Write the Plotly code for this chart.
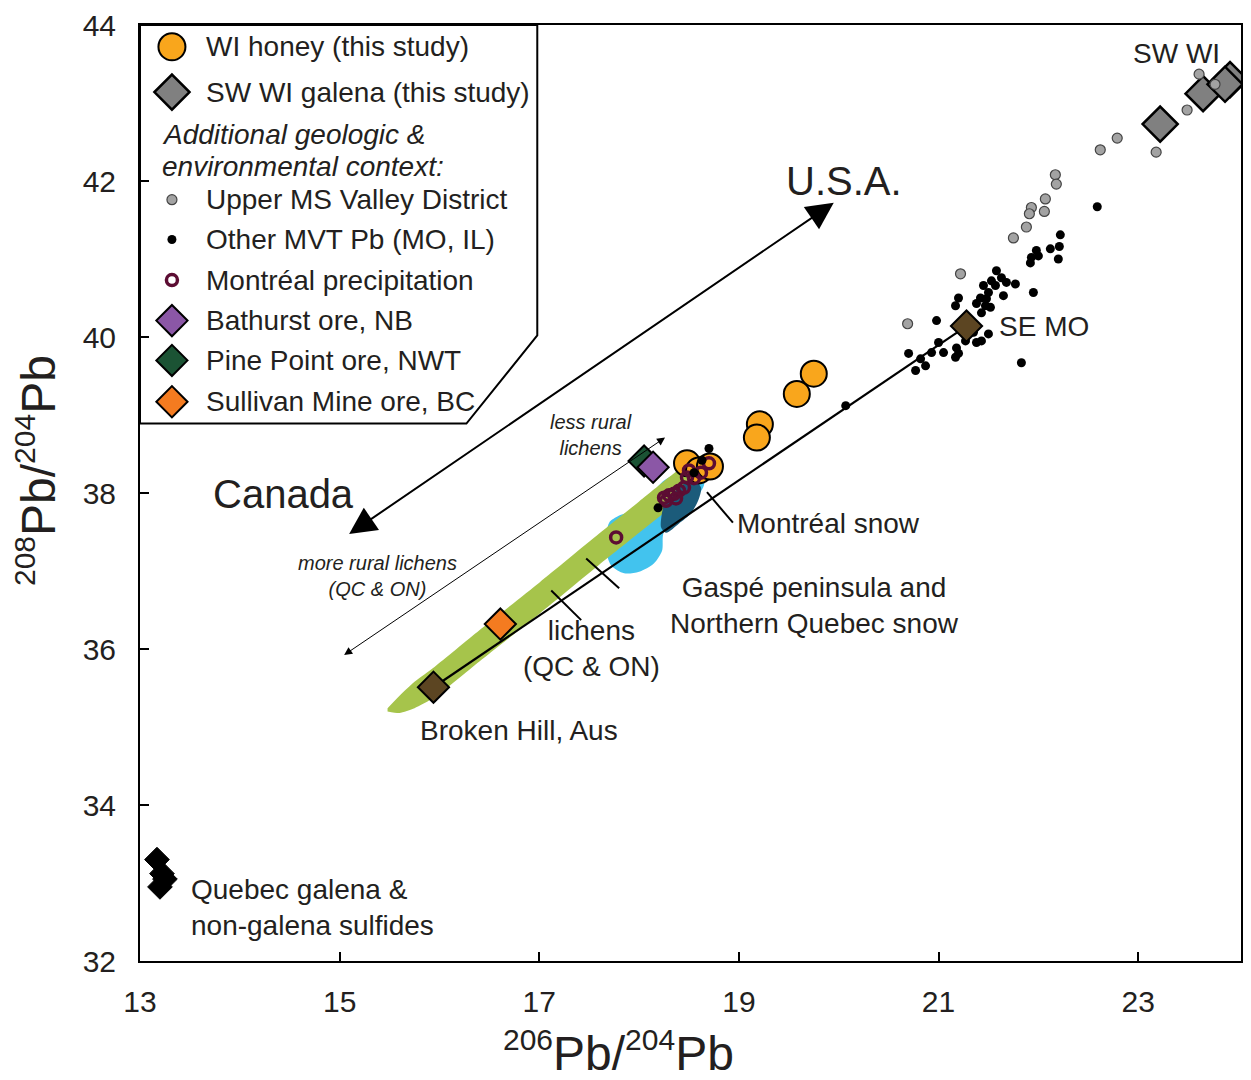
import plotly.graph_objects as go

# ---------------- data ----------------
honey_x = [19.75, 19.58, 19.21, 19.18, 18.48, 18.60, 18.71]
honey_y = [39.53, 39.27, 38.88, 38.71, 38.38, 38.29, 38.34]

swwi_galena_x = [23.22, 23.65, 23.92, 23.87]
swwi_galena_y = [42.73, 43.12, 43.30, 43.24]

umv_x = [23.61, 23.77, 23.49, 23.18, 22.79, 22.62, 22.17, 22.18, 22.07, 22.06,
         21.93, 21.91, 21.88, 21.75, 21.22, 20.69]
umv_y = [43.37, 43.24, 42.91, 42.37, 42.55, 42.40, 42.08, 41.96, 41.77, 41.61,
         41.66, 41.58, 41.41, 41.27, 40.81, 40.17]

mvt_x = [22.22, 22.12, 22.21, 22.20, 21.98, 21.93, 22.00, 21.92, 21.58, 21.63,
         21.68, 21.77, 21.53, 21.57, 21.45, 21.95, 21.65, 21.50, 21.48, 21.42,
         21.38, 21.47, 21.52, 21.20, 21.17, 21.43, 20.98, 21.35, 21.50, 21.43,
         21.38, 21.27, 21.18, 21.20, 21.00, 21.05, 20.93, 21.17, 21.83, 20.70,
         20.82, 20.87, 20.77, 22.59, 20.07, 18.70, 18.63, 18.55, 18.19]
mvt_y = [41.31, 41.13, 41.16, 41.00, 41.11, 41.02, 41.04, 40.95, 40.85, 40.76,
         40.70, 40.68, 40.72, 40.66, 40.66, 40.57, 40.53, 40.57, 40.49, 40.50,
         40.43, 40.40, 40.38, 40.50, 40.40, 40.31, 40.21, 40.06, 40.04, 39.95,
         39.93, 39.95, 39.86, 39.79, 39.93, 39.80, 39.80, 39.74, 39.67, 39.79,
         39.72, 39.63, 39.57, 41.67, 39.12, 38.57, 38.42, 38.26, 37.81]

mtl_precip_x = [18.70, 18.62, 18.55, 18.48, 18.45, 18.40, 18.35, 18.30, 18.37,
                18.27, 18.25, 18.50, 17.77]
mtl_precip_y = [38.38, 38.26, 38.19, 38.20, 38.07, 38.03, 37.99, 37.97, 37.93,
                37.90, 37.94, 38.29, 37.43]

bathurst_x, bathurst_y = [18.14], [38.33]
pinepoint_x, pinepoint_y = [18.05], [38.41]
sullivan_x, sullivan_y = [16.61], [36.32]
brokenhill_x, brokenhill_y = [15.94], [35.51]
semo_x, semo_y = [21.28], [40.14]

quebec_x = [13.17, 13.22, 13.25, 13.20]
quebec_y = [33.30, 33.12, 33.05, 32.95]

# field outlines (data units)
lichen_x = [15.48, 15.60, 15.75, 15.95, 16.40, 17.00, 17.60, 18.00, 18.40, 18.62, 18.72,
            18.70, 18.45, 18.00, 17.60, 17.00, 16.40, 15.95, 15.75, 15.60, 15.48]
lichen_y = [35.24, 35.40, 35.58, 35.77, 36.24, 36.85, 37.48, 37.89, 38.30, 38.48, 38.42,
            38.24, 37.95, 37.49, 37.08, 36.45, 35.84, 35.38, 35.24, 35.18, 35.20]

gaspe_x = [17.67, 17.70, 17.80, 18.00, 18.12, 18.25, 18.45, 18.63, 18.65, 18.50,
           18.30, 18.24, 18.23, 18.15, 18.00, 17.85, 17.72, 17.67]
gaspe_y = [37.43, 37.62, 37.71, 37.80, 37.98, 38.16, 38.29, 38.29, 38.10, 37.84,
           37.65, 37.46, 37.26, 37.10, 36.99, 36.97, 37.07, 37.24]

mtlsnow_x = [18.23, 18.22, 18.27, 18.40, 18.52, 18.60, 18.62, 18.55, 18.45, 18.33, 18.25]
mtlsnow_y = [37.75, 37.56, 37.49, 37.61, 37.74, 37.93, 38.07, 38.16, 38.12, 37.99, 37.87]

# ---------------- styles ----------------
TXT = "#231f20"
FONT = "Liberation Sans, Arial, sans-serif"
C_HONEY = "#f9a61c"
C_GRAY = "#808080"
C_UMV = "#a3a3a3"
C_MAROON = "#5c0d33"
C_PURPLE = "#8b57a6"
C_GREEN = "#1b5334"
C_ORANGE = "#f47b20"
C_BROWN = "#5c4522"
C_LICHEN = "#a6c44b"
C_GASPE = "#42c3ee"
C_MTLSNOW = "#1b5b7a"

fig = go.Figure()

# legend box
fig.add_shape(type="path", xref="x", yref="y",
              path="M 13,44 L 16.98,44 L 16.98,40.02 L 16.27,38.89 L 13,38.89 Z",
              line=dict(color="black", width=2), fillcolor="white", layer="below")

def region(x, y, color, smooth=0.8):
    fig.add_trace(go.Scatter(x=x, y=y, mode="lines", fill="toself", fillcolor=color,
                             line=dict(width=0, shape="spline", smoothing=smooth, color=color),
                             hoverinfo="skip", showlegend=False))

region(gaspe_x, gaspe_y, C_GASPE)
region(lichen_x, lichen_y, C_LICHEN, 0.6)
region(mtlsnow_x, mtlsnow_y, C_MTLSNOW)

# Broken Hill - SE MO line
fig.add_trace(go.Scatter(x=[brokenhill_x[0], semo_x[0]], y=[brokenhill_y[0], semo_y[0]],
                         mode="lines", line=dict(color="black", width=2.2),
                         hoverinfo="skip", showlegend=False))

def pts(x, y, symbol, size, color, lw=1.5, lc="black"):
    fig.add_trace(go.Scatter(x=x, y=y, mode="markers",
                             marker=dict(symbol=symbol, size=size, color=color,
                                         line=dict(color=lc, width=lw)),
                             showlegend=False))

pts(honey_x, honey_y, "circle", 26, C_HONEY, 2)
pts(mtl_precip_x, mtl_precip_y, "circle-open", 11, C_MAROON, 3.5, C_MAROON)
pts(mvt_x, mvt_y, "circle", 9, "black", 0)
pts(semo_x, semo_y, "diamond", 24, C_BROWN, 2)
pts(swwi_galena_x, swwi_galena_y, "diamond", 27, C_GRAY, 2.5)
pts(umv_x, umv_y, "circle", 10, C_UMV, 1.2, "#444444")
pts(pinepoint_x, pinepoint_y, "diamond", 24, C_GREEN, 2)
pts(bathurst_x, bathurst_y, "diamond", 24, C_PURPLE, 2)
pts(sullivan_x, sullivan_y, "diamond", 24, C_ORANGE, 2)
pts(brokenhill_x, brokenhill_y, "diamond", 24, C_BROWN, 2)
pts(quebec_x, quebec_y, "diamond", 19, "black", 1)

# legend markers & text
leg_mx = 13.32
leg_tx = 13.64
pts([leg_mx], [43.72], "circle", 27, C_HONEY, 2)
pts([leg_mx], [43.14], "diamond", 27, C_GRAY, 2.5)
pts([leg_mx], [41.76], "circle", 10, C_UMV, 1.2, "#444444")
pts([leg_mx], [41.25], "circle", 9, "black", 0)
pts([leg_mx], [40.73], "circle-open", 11, C_MAROON, 3.5, C_MAROON)
pts([leg_mx], [40.21], "diamond", 24, C_PURPLE, 2)
pts([leg_mx], [39.70], "diamond", 24, C_GREEN, 2)
pts([leg_mx], [39.17], "diamond", 24, C_ORANGE, 2)

leg_items = [("WI honey (this study)", 43.72), ("SW WI galena (this study)", 43.14),
             ("Upper MS Valley District", 41.76), ("Other MVT Pb (MO, IL)", 41.25),
             ("Montréal precipitation", 40.73), ("Bathurst ore, NB", 40.21),
             ("Pine Point ore, NWT", 39.70), ("Sullivan Mine ore, BC", 39.17)]
for t, yy in leg_items:
    fig.add_annotation(x=leg_tx, y=yy, text=t, showarrow=False, xanchor="left",
                       yanchor="middle", font=dict(family=FONT, size=28, color=TXT))
for t, yy in [("Additional geologic &amp;", 42.60), ("environmental context:", 42.18)]:
    fig.add_annotation(x=13.2, y=yy, text="<i>" + t + "</i>", showarrow=False,
                       xanchor="left", yanchor="middle",
                       font=dict(family=FONT, size=28, color=TXT))

# labels
def label(x, y, t, size=28, anchor="center", italic=False):
    if italic:
        t = "<i>" + t + "</i>"
    fig.add_annotation(x=x, y=y, text=t, showarrow=False, xanchor=anchor, yanchor="middle",
                       align=anchor if anchor != "center" else "center",
                       font=dict(family=FONT, size=size, color=TXT))

label(20.05, 42.00, "U.S.A.", 40)
label(14.44, 37.99, "Canada", 40)
label(23.38, 43.64, "SW WI", 28)
label(21.59, 40.14, "SE MO", 28, "left")
label(18.96, 37.61, "Montréal snow", 28, "left")
label(19.76, 36.56, "Gaspé peninsula and<br>Northern Quebec snow", 28)
label(17.52, 36.01, "lichens<br>(QC &amp; ON)", 28)
label(16.80, 34.96, "Broken Hill, Aus", 28)
label(17.52, 38.74, "less rural<br>lichens", 20, italic=True)
label(15.38, 36.94, "more rural lichens<br>(QC &amp; ON)", 20, italic=True)
label(13.49, 32.69, "Quebec galena &amp;<br>non-galena sulfides", 28, "left")

# arrows
fig.add_annotation(x=19.95, y=41.72, ax=15.08, ay=37.46, xref="x", yref="y",
                   axref="x", ayref="y", text="", showarrow=True,
                   arrowhead=2, startarrowhead=2, arrowside="end+start",
                   arrowsize=2.7, startarrowsize=2.7, arrowwidth=2, arrowcolor="black")
fig.add_annotation(x=18.26, y=38.71, ax=15.03, ay=35.91, xref="x", yref="y",
                   axref="x", ayref="y", text="", showarrow=True,
                   arrowhead=2, startarrowhead=2, arrowside="end+start",
                   arrowsize=1.6, startarrowsize=1.6, arrowwidth=1, arrowcolor="black")

# leader lines
for (x0, y0, x1, y1) in [(18.68, 38.01, 18.94, 37.62),
                         (17.47, 37.16, 17.80, 36.78),
                         (17.12, 36.75, 17.42, 36.37)]:
    fig.add_shape(type="line", xref="x", yref="y", x0=x0, y0=y0, x1=x1, y1=y1,
                  line=dict(color="black", width=2))

# axis titles
SUP = '<sup><span style="font-size:30px">{}</span></sup>'
title_txt = SUP.format("206") + "Pb/" + SUP.format("204") + "Pb"
ytitle_txt = SUP.format("208") + "Pb/" + SUP.format("204") + "Pb"
fig.add_annotation(xref="paper", yref="paper", x=0.435, y=-0.097,
                   text=title_txt, showarrow=False,
                   xanchor="center", yanchor="middle",
                   font=dict(family=FONT, size=48, color=TXT))
fig.add_annotation(xref="paper", yref="paper", x=-0.094, y=0.524,
                   text=ytitle_txt, showarrow=False, textangle=-90,
                   xanchor="center", yanchor="middle",
                   font=dict(family=FONT, size=48, color=TXT))

axis_common = dict(showline=True, linecolor="black", linewidth=2, mirror=True,
                   ticks="inside", ticklen=9, tickwidth=1.5, tickcolor="black",
                   showgrid=False, zeroline=False,
                   tickfont=dict(family=FONT, size=30, color=TXT))
fig.update_xaxes(range=[13, 24.03], tickvals=[13, 15, 17, 19, 21, 23],
                 ticklabelstandoff=13, **axis_common)
fig.update_yaxes(range=[32, 44], tickvals=[32, 34, 36, 38, 40, 42, 44],
                 ticklabelstandoff=16, **axis_common)

fig.update_layout(width=1251, height=1080, margin=dict(l=140, r=8, t=24, b=119),
                  paper_bgcolor="white", plot_bgcolor="white", showlegend=False)

fig.write_html("out.html")
